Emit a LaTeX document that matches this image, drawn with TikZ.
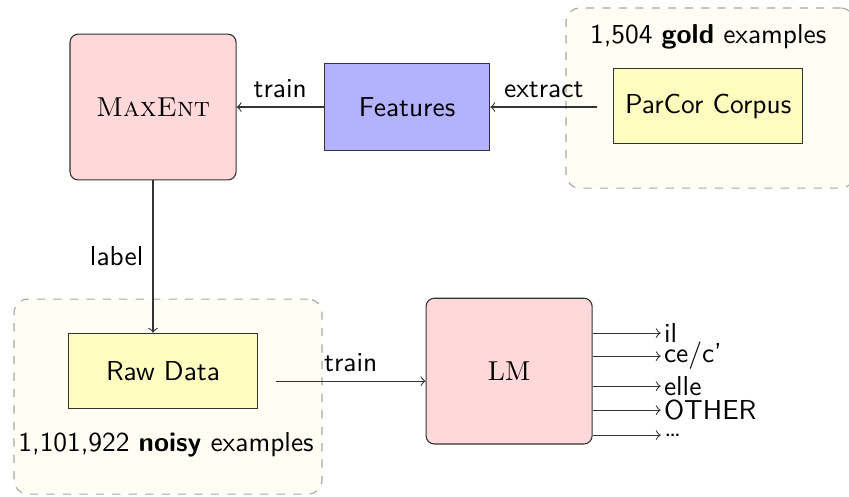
\documentclass[tikz,border=0pt]{standalone}
\usetikzlibrary{positioning}

\tikzset{
  modelbox/.style={draw=black!80, fill=red!15, rounded corners=3pt,
    minimum width=2.13cm, minimum height=1.87cm},
  featbox/.style={draw=black!80, fill=blue!30,
    minimum width=2.12cm, minimum height=1.12cm, font=\sffamily},
  databox/.style={draw=black!80, fill=yellow!25,
    minimum width=2.42cm, minimum height=0.97cm, font=\sffamily},
  groupbox/.style={draw=gray!70, dashed, fill=yellow!4, rounded corners=5pt},
  grouplabel/.style={font=\sffamily},
  flow/.style={->, draw=black!80},
  flowlabel/.style={font=\sffamily}
}

\begin{document}
\begin{tikzpicture}

  \useasboundingbox (0,0) rectangle (10.89,6.364);

  % --- Gruppen (gestrichelt) ---
  \node[groupbox, minimum width=3.70cm, minimum height=2.31cm] (gold)
      at (9.11,5.106) {};
  \node[groupbox, minimum width=3.95cm, minimum height=2.50cm] (noisy)
      at (2.155,1.277) {};

  \node[grouplabel] (goldtext) at (9.084,5.889) {1,504 \textbf{gold} examples};
  \node[grouplabel] (noisytext) at (2.130,0.654) {1,101,922 \textbf{noisy} examples};

  % --- Knoten ---
  \node[modelbox] (maxent)   at (1.963,4.991) {\textsc{MaxEnt}};
  \node[featbox]  (features) at (5.222,4.991) {Features};
  \node[databox]  (parcor)   at (9.084,5.004) {ParCor Corpus};
  \node[databox]  (rawdata)  at (2.091,1.604) {Raw Data};
  \node[modelbox] (lm)       at (6.530,1.604) {LM};

  % --- Hilfspunkte ---
  \coordinate (extractstart) at (7.660,4.991);
  \coordinate (trainstart)   at (3.541,1.475);

  % --- Pfeile ---
  \draw[flow] (extractstart) -- (features.east)
      node[midway, above, flowlabel] {extract};
  \draw[flow] (features.west) -- (maxent.east)
      node[midway, above, flowlabel] {train};
  \draw[flow] (maxent.south) -- (maxent.south |- rawdata.north)
      node[midway, left, flowlabel] {label};
  \draw[flow] (trainstart) -- (lm.west |- trainstart)
      node[midway, above, flowlabel] {train};

  % --- Ausgaben des LM ---
  \foreach \y/\name/\txt in {2.091/il/il, 1.796/ce/{ce/c'}, 1.411/elle/elle,
                             1.103/other/OTHER, 0.783/rest/\dots} {
    \coordinate (lmout-\name) at (lm.east |- 0,\y);
    \draw[flow] (lmout-\name) -- ++(0.873,0)
        node[right, inner sep=1pt, flowlabel] (out-\name) {\txt};
  }

\end{tikzpicture}
\end{document}
